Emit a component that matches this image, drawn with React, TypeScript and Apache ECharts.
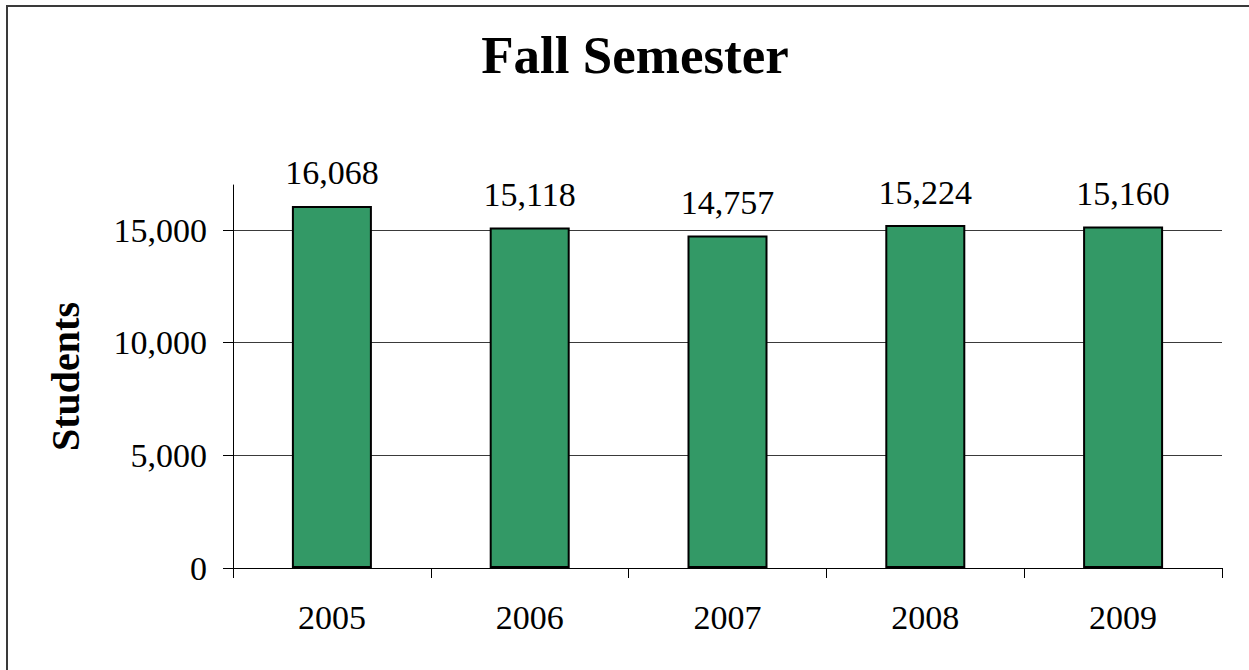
import React, { useEffect, useRef } from "react";
import * as echarts from "echarts";

const categories = ["2005", "2006", "2007", "2008", "2009"];
const students = [16068, 15118, 14757, 15224, 15160];
const yTicks = [0, 5000, 10000, 15000];
const titleText = "Fall Semester";
const yAxisName = "Students";

const FONT = "'Liberation Serif', 'Times New Roman', serif";

export default function App() {
  const ref = useRef<HTMLDivElement>(null);
  useEffect(() => {
    if (!ref.current) return;
    const chart = echarts.init(ref.current, null, { renderer: "svg" });
    chart.setOption({
      animation: false,
      backgroundColor: "#ffffff",
      graphic: [
        {
          type: "rect",
          shape: { x: 7, y: 6, width: 1300, height: 700 },
          style: { fill: "none", stroke: "#3a3a3a", lineWidth: 2 },
          silent: true,
        },
      ],
      title: {
        text: titleText,
        left: 630,
        textAlign: "center",
        top: 23,
        textStyle: {
          fontFamily: FONT,
          fontSize: 53,
          fontWeight: "bold",
          color: "#000",
        },
      },
      grid: { left: 233, right: 27, top: 185, bottom: 102 },
      xAxis: {
        type: "category",
        data: categories,
        boundaryGap: true,
        axisLine: { lineStyle: { color: "#000", width: 1 } },
        axisTick: { show: true, length: 10, lineStyle: { color: "#000" } },
        axisLabel: {
          margin: 32,
          fontFamily: FONT,
          fontSize: 34,
          color: "#000",
        },
      },
      yAxis: {
        type: "value",
        min: 0,
        max: 17000,
        interval: 5000,
        name: yAxisName,
        nameLocation: "middle",
        nameRotate: 90,
        nameGap: 148,
        nameTextStyle: {
          fontFamily: FONT,
          fontSize: 40,
          fontWeight: "bold",
          color: "#000",
        },
        axisLine: { show: true, lineStyle: { color: "#000", width: 1 } },
        axisTick: {
          show: true,
          length: 10,
          lineStyle: { color: "#000" },
          customValues: yTicks,
        },
        axisLabel: {
          margin: 26,
          fontFamily: FONT,
          fontSize: 34,
          color: "#000",
          customValues: yTicks,
          formatter: (v: number) => v.toLocaleString("en-US"),
        },
        splitLine: {
          show: true,
          lineStyle: { color: "#3a3a3a", width: 1 },
        },
      },
      series: [
        {
          type: "bar",
          data: students,
          barWidth: 80,
          itemStyle: {
            color: "#339966",
            borderColor: "#000",
            borderWidth: 2,
          },
          label: {
            show: true,
            position: "top",
            distance: 16,
            fontFamily: FONT,
            fontSize: 34,
            color: "#000",
            formatter: (p: any) => Number(p.value).toLocaleString("en-US"),
          },
        },
      ],
    });
    return () => chart.dispose();
  }, []);
  return (
    <div
      ref={ref}
      style={{ position: "absolute", left: 0, top: 0, width: 1249, height: 670 }}
    />
  );
}
